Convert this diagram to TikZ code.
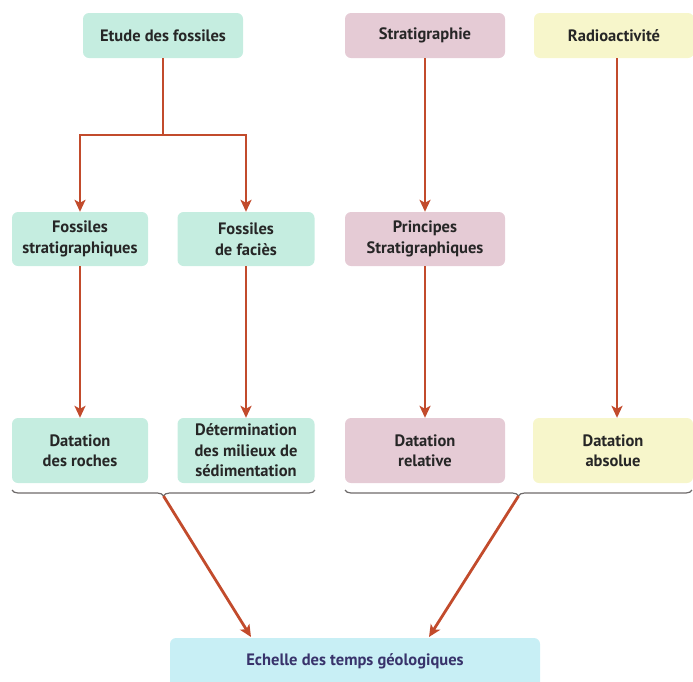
\documentclass[tikz,border=0pt]{standalone}
\usepackage{fontspec}
\setmainfont{PT Sans}
\usetikzlibrary{arrows.meta,decorations.pathreplacing}
\definecolor{mint}{HTML}{C5EDE0}
\definecolor{rose}{HTML}{E5CBD5}
\definecolor{paleyellow}{HTML}{F7F6CB}
\definecolor{paleblue}{HTML}{C8EFF5}
\definecolor{arrowred}{HTML}{C24B2C}
\definecolor{bracegray}{HTML}{6E6A6A}
\definecolor{navy}{HTML}{38336B}
\begin{document}
\begin{tikzpicture}[x=1pt,y=-1pt,
  box/.style={rounded corners=6pt,inner sep=0pt,align=center,
    font=\bfseries\fontsize{16.5}{20.5}\selectfont,text=black!85},
  conn/.style={draw=arrowred,line width=2.8pt,-{Stealth[length=12pt,width=11pt,inset=3pt]}},
  plain/.style={draw=arrowred,line width=2.8pt},
  bracestyle/.style={draw=bracegray,line width=1.2pt,decorate,
    decoration={brace,mirror,amplitude=6pt,aspect=0.5}}]
\useasboundingbox (0,0) rectangle (693,681);
\clip (0,0) rectangle (693,681);
% top row
\node[box,fill=mint,minimum width=160pt,minimum height=45pt] (etude) at (163,35.5) {Etude des fossiles};
\node[box,fill=rose,minimum width=160pt,minimum height=45pt] (strat) at (425,35.5) {Stratigraphie};
\node[box,fill=paleyellow,minimum width=160pt,minimum height=45pt] (radio) at (614,35.5) {Radioactivité};
% middle row
\node[box,fill=mint,minimum width=136pt,minimum height=54pt] (fstrat) at (80,239) {Fossiles\\stratigraphiques};
\node[box,fill=mint,minimum width=137pt,minimum height=54pt] (ffacies) at (246,239) {Fossiles\\de faciès};
\node[box,fill=rose,minimum width=160pt,minimum height=54pt] (princ) at (425,239) {Principes\\Stratigraphiques};
% third row
\node[box,fill=mint,minimum width=136pt,minimum height=65pt] (droches) at (80,450.5) {Datation\\des roches};
\node[box,fill=mint,minimum width=137pt,minimum height=65pt] (determ) at (246,450.5) {Détermination\\des milieux de\\sédimentation};
\node[box,fill=rose,minimum width=160pt,minimum height=65pt] (drel) at (425,450.5) {Datation\\relative};
\node[box,fill=paleyellow,minimum width=160pt,minimum height=65pt] (dabs) at (613,450.5) {Datation\\absolue};
% bottom
\node[box,fill=paleblue,minimum width=370pt,minimum height=60pt,text=navy] (echelle) at (355,668) {};
\node[font=\bfseries\fontsize{16.5}{20}\selectfont,text=navy,inner sep=0pt] (echtxt) at (355,661) {Echelle des temps géologiques};
% connectors
\coordinate (split) at (163,135);
\draw[plain] (etude.south) -- (split);
\draw[conn] (split) -| (fstrat.north);
\draw[conn] (split) -| (ffacies.north);
\draw[conn] (strat.south) -- (princ.north);
\draw[conn] (radio.south -| 617,0) -- (dabs.north -| 617,0);
\draw[conn] (fstrat.south) -- (droches.north);
\draw[conn] (ffacies.south) -- (determ.north);
\draw[conn] (princ.south) -- (drel.north);
% braces
\coordinate (bl1) at (12,490);
\coordinate (bl2) at (315,490);
\coordinate (br1) at (345,490);
\coordinate (br2) at (692,490);
\draw[bracestyle] (bl1) -- (bl2);
\draw[bracestyle] (br1) -- (br2);
\coordinate (tipL) at (163.5,496);
\coordinate (tipR) at (518.5,496);
\coordinate (endL) at (251,637);
\coordinate (endR) at (429,637);
\draw[conn] (tipL) -- (endL);
\draw[conn] (tipR) -- (endR);
\end{tikzpicture}
\end{document}
